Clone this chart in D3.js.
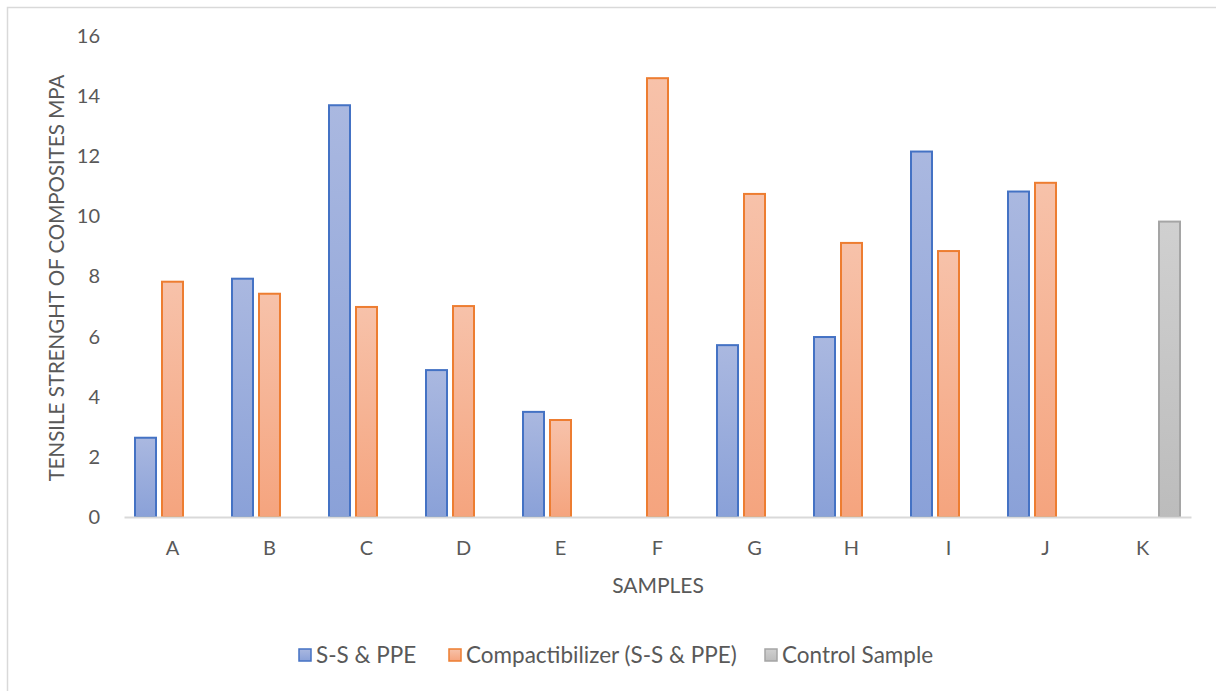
<!DOCTYPE html>
<html>
<head>
<meta charset="utf-8">
<script src="https://cdn.jsdelivr.net/npm/d3@7"></script>
<style>
  html, body { margin: 0; padding: 0; background: #fff; }
  svg { display: block; }
  text { font-family: Lato, "Open Sans", sans-serif; fill: #595959; }
</style>
</head>
<body>
<svg id="chart" width="1216" height="691"></svg>
<script>
// Tensile strength of composites by sample
const categories = ["A", "B", "C", "D", "E", "F", "G", "H", "I", "J", "K"];
const seriesNames = ["S-S & PPE", "Compactibilizer (S-S & PPE)", "Control Sample"];
const ssPpe =        [2.67, 7.96, 13.73, 4.92, 3.53, null, 5.75, 6.02, 12.19, 10.86, null];
const compat =       [7.86, 7.46, 7.02, 7.05, 3.26, 14.63, 10.78, 9.15, 8.88, 11.15, null];
const control =      [null, null, null, null, null, null, null, null, null, null, 9.86];
const yTicks = [0, 2, 4, 6, 8, 10, 12, 14, 16];

const seriesValues = [ssPpe, compat, control];
const strokes = ["#4472c4", "#ed7d31", "#a5a5a5"];
const gradTop = ["#aab8e0", "#f7c2aa", "#d0d0d0"];
const gradBot = ["#8aa1d8", "#f5a47e", "#bcbcbc"];

const svg = d3.select("#chart");
const margin = { left: 124, right: 1191, top: 36, bottom: 517 };

// outer chart frame
svg.append("rect")
  .attr("x", 7.5).attr("y", 7.5)
  .attr("width", 1216).attr("height", 700)
  .attr("fill", "none").attr("stroke", "#d9d9d9").attr("stroke-width", 1.5);

const defs = svg.append("defs");
seriesNames.forEach((n, i) => {
  const g = defs.append("linearGradient")
    .attr("id", "grad" + i).attr("x1", 0).attr("y1", 0).attr("x2", 0).attr("y2", 1);
  g.append("stop").attr("offset", "0%").attr("stop-color", gradTop[i]);
  g.append("stop").attr("offset", "100%").attr("stop-color", gradBot[i]);
});

const x0 = d3.scaleBand().domain(categories)
  .range([margin.left, margin.right]).paddingInner(0).paddingOuter(0);
const x1 = d3.scaleBand().domain(d3.range(3))
  .range([0, 81]).paddingInner(4 / 27).paddingOuter(2 / 27);
const y = d3.scaleLinear().domain([0, 16]).range([margin.bottom, margin.top]);

// y axis labels (no line, no ticks)
const yAxis = svg.append("g")
  .attr("transform", `translate(${margin.left},0)`)
  .call(d3.axisLeft(y).tickValues(yTicks).tickSize(0).tickPadding(24));
yAxis.select(".domain").remove();
yAxis.selectAll("text").style("font-size", "20px").attr("fill", "#595959")
  .style("font-family", "Lato, 'Open Sans', sans-serif");

// bars
const groups = svg.append("g").selectAll("g")
  .data(categories)
  .join("g")
  .attr("transform", d => `translate(${x0(d) + x0.bandwidth() / 2 - 40.5},0)`);

groups.selectAll("rect")
  .data((d, ci) => seriesValues.map((vals, si) => ({ si, v: vals[ci] })).filter(o => o.v != null))
  .join("rect")
  .attr("x", d => x1(d.si) + 1)
  .attr("width", x1.bandwidth() - 2)
  .attr("y", d => y(d.v) + 1)
  .attr("height", d => y(0) - y(d.v) - 1)
  .attr("fill", d => `url(#grad${d.si})`)
  .attr("stroke", d => strokes[d.si])
  .attr("stroke-width", 2);

// x axis baseline and labels
const xAxis = svg.append("g")
  .attr("transform", `translate(0,${margin.bottom})`)
  .call(d3.axisBottom(x0).tickSize(0).tickPadding(24));
xAxis.select(".domain").attr("stroke", "#d9d9d9").attr("stroke-width", 2);
xAxis.selectAll("text").style("font-size", "20px").attr("fill", "#595959")
  .style("font-family", "Lato, 'Open Sans', sans-serif");

// axis titles
svg.append("text")
  .attr("transform", `translate(64,278) rotate(-90)`)
  .attr("text-anchor", "middle")
  .style("font-size", "20.5px")
  .text("TENSILE STRENGHT OF COMPOSITES MPA");

svg.append("text")
  .attr("x", 658)
  .attr("y", 593)
  .attr("text-anchor", "middle")
  .style("font-size", "21px")
  .text("SAMPLES");

// legend
const legendX = [298, 448, 764];
const legend = svg.append("g").selectAll("g")
  .data(seriesNames)
  .join("g")
  .attr("transform", (d, i) => `translate(${legendX[i]},648)`);
legend.append("rect")
  .attr("x", 1).attr("y", 1).attr("width", 12).attr("height", 12)
  .attr("fill", (d, i) => `url(#grad${i})`)
  .attr("stroke", (d, i) => strokes[i]).attr("stroke-width", 1.5);
legend.append("text")
  .attr("x", 18).attr("y", 15)
  .style("font-size", "22.5px")
  .text(d => d);
</script>
</body>
</html>
